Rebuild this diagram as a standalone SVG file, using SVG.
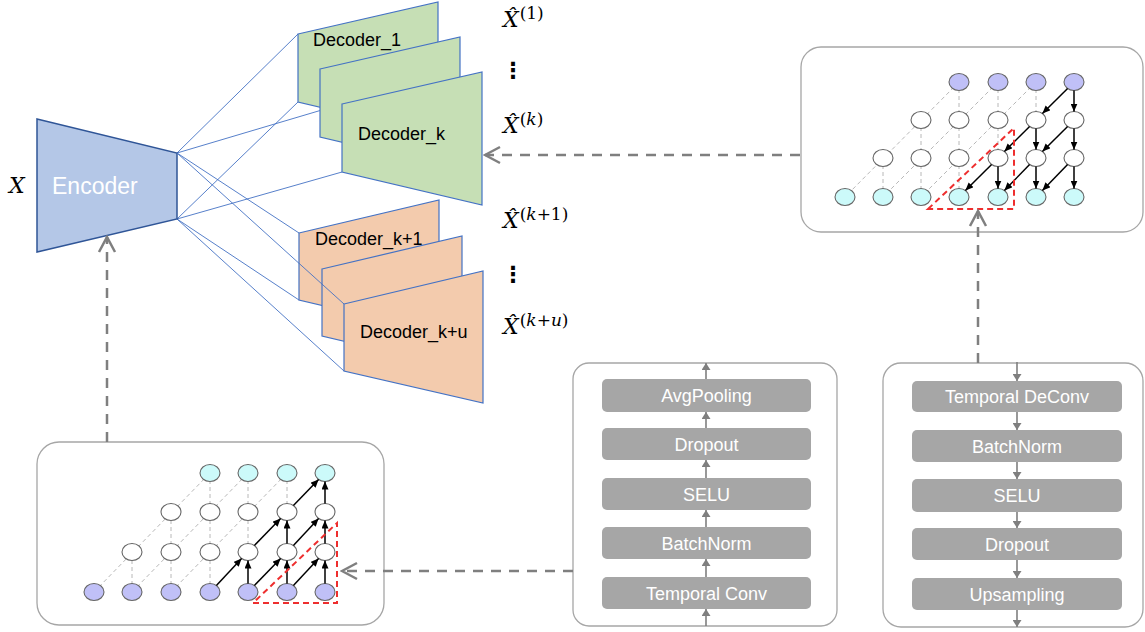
<svg xmlns="http://www.w3.org/2000/svg" width="1145" height="632" viewBox="0 0 1145 632">
<style>
.enc{fill:#B4C7E7;stroke:#2F5597;stroke-width:1.5}
.dg{fill:#C6DFB5;stroke:#4472C4;stroke-width:1.2}
.do{fill:#F3CBAD;stroke:#4472C4;stroke-width:1.2}
.bl{stroke:#4472C4;stroke-width:0.9;fill:none}
.lbl{font-family:"Liberation Sans",Arial,sans-serif;font-size:18px;fill:#000}
.math{font-family:"DejaVu Serif",serif;font-style:italic;font-size:22px;fill:#000}
.sup{font-size:17px}
.up{font-style:normal}
.dots{font-family:"DejaVu Sans",sans-serif;font-size:22px;font-weight:bold;text-anchor:middle;fill:#000}
.panel{fill:#fff;stroke:#A6A6A6;stroke-width:1.3}
.layer{fill:#A6A6A6}
.lt{font-family:"Liberation Sans",Arial,sans-serif;font-size:18px;fill:#fff;text-anchor:middle}
.ga{stroke:#7F7F7F;stroke-width:1.6;marker-end:url(#gh)}
.dash{stroke:#7F7F7F;stroke-width:2.5;stroke-dasharray:10 8;fill:none;marker-end:url(#chev)}
.lg{stroke:#B8B8B8;stroke-width:1;stroke-dasharray:4 3}
.bk{stroke:#000;stroke-width:1.5;marker-end:url(#bh)}
.n{stroke:#666;stroke-width:1.1}
.nw{fill:#fff}
.np{fill:#C0C0F7}
.nc{fill:#CCFAFA}
.red{fill:none;stroke:#EE2E2E;stroke-width:2;stroke-dasharray:6 4}
</style>
<defs>
<marker id="chev" viewBox="-17 -10 19 20" markerWidth="19" markerHeight="20" refX="0" refY="0" orient="auto" markerUnits="userSpaceOnUse">
<path d="M-15,-8 L0,0 L-15,8" fill="none" stroke="#7F7F7F" stroke-width="2.5" stroke-dasharray="none"/>
</marker>
<marker id="bh" viewBox="0 0 8 7" markerWidth="8" markerHeight="7" refX="8" refY="3.5" orient="auto" markerUnits="userSpaceOnUse">
<path d="M0,0 L8,3.5 L0,7 z" fill="#000"/>
</marker>
<marker id="gh" viewBox="0 0 7 9" markerWidth="7" markerHeight="9" refX="7" refY="4.5" orient="auto" markerUnits="userSpaceOnUse">
<path d="M0,0 L7,4.5 L0,9 z" fill="#7F7F7F"/>
</marker>
</defs>

<!-- encoder-to-decoder lines (behind) -->
<g id="fan-lines" class="bl">
<line x1="177" y1="153" x2="298" y2="34"/>
<line x1="177" y1="219" x2="298" y2="102"/>
<line x1="177" y1="153" x2="342" y2="104"/>
<line x1="177" y1="219" x2="342" y2="172"/>
<line x1="177" y1="153" x2="299" y2="233"/>
<line x1="177" y1="219" x2="299" y2="300"/>
<line x1="177" y1="219" x2="344" y2="371"/>
</g>

<g id="input-x"><text class="math" x="9" y="193">X</text></g>

<g id="encoder">
<polygon class="enc" points="37,119 177,153 177,219 37,252"/>
<text x="52" y="194" font-family="Liberation Sans,Arial,sans-serif" font-size="23" fill="#fff">Encoder</text>
</g>

<g id="decoder-1">
<polygon class="dg" points="298,34 438,2 438,135 298,102"/>
<text class="lbl" x="313" y="46">Decoder_1</text>
</g>
<g id="decoder-2">
<polygon class="dg" points="320,69 460,37 460,170 320,137"/>
</g>
<g id="decoder-k">
<polygon class="dg" points="342,104 482,72 482,205 342,172"/>
<text class="lbl" x="358" y="140">Decoder_k</text>
</g>

<g id="decoder-k1">
<polygon class="do" points="299,233 439,200 439,333 299,300"/>
<text class="lbl" x="315" y="245">Decoder_k+1</text>
</g>
<g id="decoder-k2">
<polygon class="do" points="322,269 462,236 462,369 322,336"/>
</g>
<line class="bl" x1="177" y1="153" x2="344" y2="304"/>
<g id="decoder-ku">
<polygon class="do" points="344,304 483,271 483,403 344,371"/>
<text class="lbl" x="360" y="338">Decoder_k+u</text>
</g>

<g id="outputs">
<text class="math" x="503" y="27">X̂<tspan class="sup up" dy="-8" dx="1">(1)</tspan></text>
<text class="dots" x="513" y="78">⋮</text>
<text class="math" x="503" y="133">X̂<tspan class="sup up" dy="-8" dx="1">(</tspan><tspan class="sup">k</tspan><tspan class="sup up">)</tspan></text>
<text class="math" x="503" y="228">X̂<tspan class="sup up" dy="-8" dx="1">(</tspan><tspan class="sup">k</tspan><tspan class="sup up">+1)</tspan></text>
<text class="dots" x="513" y="282">⋮</text>
<text class="math" x="503" y="334">X̂<tspan class="sup up" dy="-8" dx="1">(</tspan><tspan class="sup">k</tspan><tspan class="sup up">+</tspan><tspan class="sup">u</tspan><tspan class="sup up">)</tspan></text>
</g>

<!-- top-right decoder dilation panel -->
<g id="deconv-graph">
<rect class="panel" x="801" y="47" width="342" height="185" rx="20"/>
<g class="lg">
<line x1="959" y1="82" x2="845" y2="197"/>
<line x1="998" y1="82" x2="883" y2="197"/>
<line x1="1036" y1="82" x2="921" y2="197"/>
<line x1="959" y1="82" x2="959" y2="120"/>
<line x1="998" y1="82" x2="998" y2="120"/>
<line x1="1036" y1="82" x2="1036" y2="120"/>
<line x1="921" y1="120" x2="921" y2="158"/>
<line x1="959" y1="120" x2="959" y2="158"/>
<line x1="998" y1="120" x2="998" y2="158"/>
<line x1="883" y1="158" x2="883" y2="197"/>
<line x1="921" y1="158" x2="921" y2="197"/>
<line x1="959" y1="158" x2="959" y2="197"/>
</g>
<g class="n">
<ellipse class="np" cx="959" cy="82" rx="10" ry="8.5"/>
<ellipse class="np" cx="998" cy="82" rx="10" ry="8.5"/>
<ellipse class="np" cx="1036" cy="82" rx="10" ry="8.5"/>
<ellipse class="np" cx="1074" cy="82" rx="10" ry="8.5"/>
<ellipse class="nw" cx="921" cy="120" rx="10" ry="8.5"/>
<ellipse class="nw" cx="959" cy="120" rx="10" ry="8.5"/>
<ellipse class="nw" cx="998" cy="120" rx="10" ry="8.5"/>
<ellipse class="nw" cx="1036" cy="120" rx="10" ry="8.5"/>
<ellipse class="nw" cx="1074" cy="120" rx="10" ry="8.5"/>
<ellipse class="nw" cx="883" cy="158" rx="10" ry="8.5"/>
<ellipse class="nw" cx="921" cy="158" rx="10" ry="8.5"/>
<ellipse class="nw" cx="959" cy="158" rx="10" ry="8.5"/>
<ellipse class="nw" cx="998" cy="158" rx="10" ry="8.5"/>
<ellipse class="nw" cx="1036" cy="158" rx="10" ry="8.5"/>
<ellipse class="nw" cx="1074" cy="158" rx="10" ry="8.5"/>
<ellipse class="nc" cx="845" cy="197" rx="10" ry="8.5"/>
<ellipse class="nc" cx="883" cy="197" rx="10" ry="8.5"/>
<ellipse class="nc" cx="921" cy="197" rx="10" ry="8.5"/>
<ellipse class="nc" cx="959" cy="197" rx="10" ry="8.5"/>
<ellipse class="nc" cx="998" cy="197" rx="10" ry="8.5"/>
<ellipse class="nc" cx="1036" cy="197" rx="10" ry="8.5"/>
<ellipse class="nc" cx="1074" cy="197" rx="10" ry="8.5"/>
</g>
<g>
<line class="bk" x1="1074" y1="90.5" x2="1074" y2="111.5"/>
<line class="bk" x1="1036" y1="128.5" x2="1036" y2="149.5"/>
<line class="bk" x1="1074" y1="128.5" x2="1074" y2="149.5"/>
<line class="bk" x1="998" y1="166.5" x2="998" y2="188.5"/>
<line class="bk" x1="1036" y1="166.5" x2="1036" y2="188.5"/>
<line class="bk" x1="1074" y1="166.5" x2="1074" y2="188.5"/>
<line class="bk" x1="1067.6" y1="88.5" x2="1042.4" y2="113.5"/>
<line class="bk" x1="1029.6" y1="126.5" x2="1004.4" y2="151.5"/>
<line class="bk" x1="1067.6" y1="126.5" x2="1042.4" y2="151.5"/>
<line class="bk" x1="991.6" y1="164.5" x2="965.4" y2="190.5"/>
<line class="bk" x1="1029.6" y1="164.5" x2="1004.4" y2="190.5"/>
<line class="bk" x1="1067.6" y1="164.5" x2="1042.4" y2="190.5"/>
</g>
<polygon class="red" points="928,209 1014,128 1014,209"/>
</g>

<!-- bottom-left encoder dilation panel -->
<g id="conv-graph">
<rect class="panel" x="37" y="442" width="347" height="183" rx="22"/>
<g class="lg">
<line x1="94" y1="592" x2="210" y2="473"/>
<line x1="132" y1="592" x2="248" y2="473"/>
<line x1="171" y1="592" x2="287" y2="473"/>
<line x1="132" y1="592" x2="132" y2="552"/>
<line x1="171" y1="592" x2="171" y2="552"/>
<line x1="210" y1="592" x2="210" y2="552"/>
<line x1="171" y1="552" x2="171" y2="512"/>
<line x1="210" y1="552" x2="210" y2="512"/>
<line x1="248" y1="552" x2="248" y2="512"/>
<line x1="210" y1="512" x2="210" y2="473"/>
<line x1="248" y1="512" x2="248" y2="473"/>
<line x1="287" y1="512" x2="287" y2="473"/>
</g>
<g class="n">
<ellipse class="nc" cx="210" cy="473" rx="10" ry="8.5"/>
<ellipse class="nc" cx="248" cy="473" rx="10" ry="8.5"/>
<ellipse class="nc" cx="287" cy="473" rx="10" ry="8.5"/>
<ellipse class="nc" cx="325" cy="473" rx="10" ry="8.5"/>
<ellipse class="nw" cx="171" cy="512" rx="10" ry="8.5"/>
<ellipse class="nw" cx="210" cy="512" rx="10" ry="8.5"/>
<ellipse class="nw" cx="248" cy="512" rx="10" ry="8.5"/>
<ellipse class="nw" cx="287" cy="512" rx="10" ry="8.5"/>
<ellipse class="nw" cx="325" cy="512" rx="10" ry="8.5"/>
<ellipse class="nw" cx="132" cy="552" rx="10" ry="8.5"/>
<ellipse class="nw" cx="171" cy="552" rx="10" ry="8.5"/>
<ellipse class="nw" cx="210" cy="552" rx="10" ry="8.5"/>
<ellipse class="nw" cx="248" cy="552" rx="10" ry="8.5"/>
<ellipse class="nw" cx="287" cy="552" rx="10" ry="8.5"/>
<ellipse class="nw" cx="325" cy="552" rx="10" ry="8.5"/>
<ellipse class="np" cx="94" cy="592" rx="10" ry="8.5"/>
<ellipse class="np" cx="132" cy="592" rx="10" ry="8.5"/>
<ellipse class="np" cx="171" cy="592" rx="10" ry="8.5"/>
<ellipse class="np" cx="210" cy="592" rx="10" ry="8.5"/>
<ellipse class="np" cx="248" cy="592" rx="10" ry="8.5"/>
<ellipse class="np" cx="287" cy="592" rx="10" ry="8.5"/>
<ellipse class="np" cx="325" cy="592" rx="10" ry="8.5"/>
</g>
<g>
<line class="bk" x1="216.4" y1="585.5" x2="241.6" y2="558.5"/>
<line class="bk" x1="248" y1="583.5" x2="248" y2="560.5"/>
<line class="bk" x1="254.4" y1="585.5" x2="280.6" y2="558.5"/>
<line class="bk" x1="287" y1="583.5" x2="287" y2="560.5"/>
<line class="bk" x1="293.4" y1="585.5" x2="318.6" y2="558.5"/>
<line class="bk" x1="325" y1="583.5" x2="325" y2="560.5"/>
<line class="bk" x1="254.4" y1="545.5" x2="280.6" y2="518.5"/>
<line class="bk" x1="287" y1="543.5" x2="287" y2="520.5"/>
<line class="bk" x1="293.4" y1="545.5" x2="318.6" y2="518.5"/>
<line class="bk" x1="325" y1="543.5" x2="325" y2="520.5"/>
<line class="bk" x1="293.4" y1="505.5" x2="318.6" y2="479.5"/>
<line class="bk" x1="325" y1="503.5" x2="325" y2="481.5"/>
</g>
<polygon class="red" points="253,603 337,603 337,523"/>
</g>

<!-- encoder layer stack -->
<g id="encoder-layers">
<rect class="panel" x="573" y="363" width="264" height="263" rx="16"/>
<rect class="layer" x="602" y="379" width="209" height="33" rx="5"/>
<text class="lt" x="706.5" y="402">AvgPooling</text>
<rect class="layer" x="602" y="428" width="209" height="32" rx="5"/>
<text class="lt" x="706.5" y="450.5">Dropout</text>
<rect class="layer" x="602" y="478" width="209" height="32" rx="5"/>
<text class="lt" x="706.5" y="500.5">SELU</text>
<rect class="layer" x="602" y="527" width="209" height="32" rx="5"/>
<text class="lt" x="706.5" y="549.5">BatchNorm</text>
<rect class="layer" x="602" y="577" width="209" height="32" rx="5"/>
<text class="lt" x="706.5" y="599.5">Temporal Conv</text>
</g>

<!-- decoder layer stack -->
<g id="decoder-layers">
<rect class="panel" x="883" y="363" width="260" height="264" rx="18"/>
<rect class="layer" x="912" y="381" width="210" height="31" rx="5"/>
<text class="lt" x="1017" y="403">Temporal DeConv</text>
<rect class="layer" x="912" y="430" width="210" height="32" rx="5"/>
<text class="lt" x="1017" y="452.5">BatchNorm</text>
<rect class="layer" x="912" y="479" width="210" height="33" rx="5"/>
<text class="lt" x="1017" y="502">SELU</text>
<rect class="layer" x="912" y="528" width="210" height="32" rx="5"/>
<text class="lt" x="1017" y="550.5">Dropout</text>
<rect class="layer" x="912" y="578" width="210" height="32" rx="5"/>
<text class="lt" x="1017" y="600.5">Upsampling</text>
</g>

<g id="connectors">
<line class="ga" x1="706" y1="626" x2="706" y2="609"/>
<line class="ga" x1="706" y1="577" x2="706" y2="559"/>
<line class="ga" x1="706" y1="527" x2="706" y2="510"/>
<line class="ga" x1="706" y1="478" x2="706" y2="460"/>
<line class="ga" x1="706" y1="428" x2="706" y2="412"/>
<line class="ga" x1="706" y1="379" x2="706" y2="363"/>
<line class="ga" x1="1017" y1="362" x2="1017" y2="381"/>
<line class="ga" x1="1017" y1="412" x2="1017" y2="430"/>
<line class="ga" x1="1017" y1="462" x2="1017" y2="479"/>
<line class="ga" x1="1017" y1="512" x2="1017" y2="528"/>
<line class="ga" x1="1017" y1="560" x2="1017" y2="578"/>
<line class="ga" x1="1017" y1="610" x2="1017" y2="627"/>
<line class="dash" x1="800" y1="155" x2="485" y2="155"/>
<line class="dash" x1="978" y1="363" x2="978" y2="211"/>
<line class="dash" x1="573" y1="571" x2="342" y2="571"/>
<line class="dash" x1="107" y1="442" x2="107" y2="237"/>
</g>
</svg>
